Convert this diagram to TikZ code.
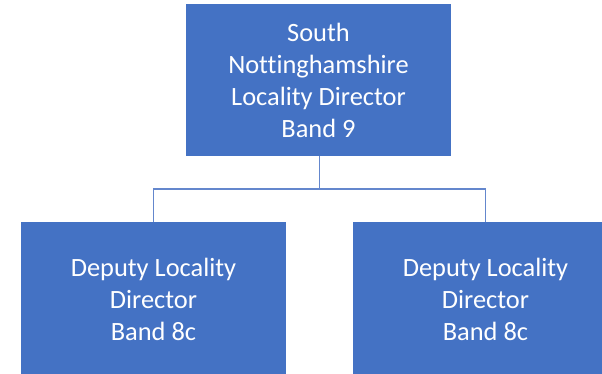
\documentclass[tikz,border=0pt]{standalone}
\usepackage{fontspec}
\setmainfont[Ligatures=NoCommon]{Carlito}
\definecolor{boxblue}{HTML}{4472C4}
\definecolor{linkblue}{RGB}{100,135,205}
\tikzset{
  orgbox/.style={rectangle, fill=boxblue, draw=none, minimum width=265pt, minimum height=152pt,
    inner sep=0pt, text=white, align=center, font=\fontsize{26.4}{32}\selectfont},
  link/.style={draw=linkblue, line width=1.1pt}
}
\begin{document}
\begin{tikzpicture}[x=1pt,y=1pt]
\path[use as bounding box, clip] (0,0) rectangle (602,374);
\node[orgbox] (top) at (318.5,294) {South\\Nottinghamshire\\Locality Director\\Band 9};
\node[orgbox, minimum height=154pt] (left) at (153.5,75) {Deputy Locality\\Director\\Band 8c};
\node[orgbox, minimum height=154pt] (right) at (485.5,75) {Deputy Locality\\Director\\Band 8c};
\coordinate (mid) at (319.5,185);
\draw[link] (top.south -| mid) -- (mid);
\draw[link] (left.north) |- (mid) -| (right.north);
\end{tikzpicture}
\end{document}
